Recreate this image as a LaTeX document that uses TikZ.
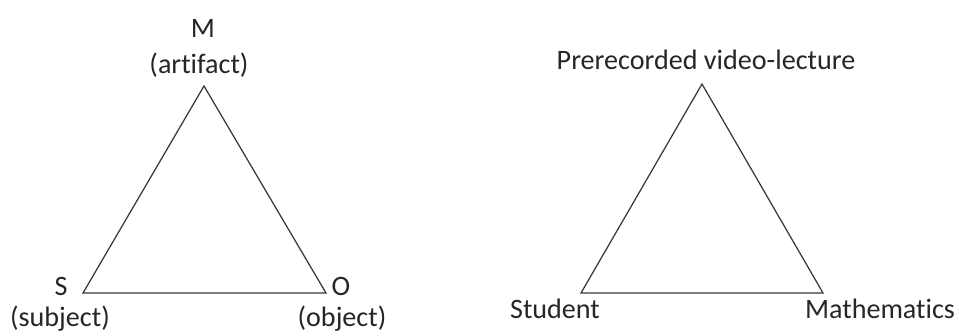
\documentclass[tikz,border=0pt]{standalone}
\usepackage{fontspec}
\setmainfont{Carlito}[Ligatures=NoCommon]
\usepackage{tikz}
\usetikzlibrary{positioning}
\definecolor{ink}{HTML}{262626}
\definecolor{edge}{HTML}{3A3A3A}
\tikzset{
  lbl/.style={anchor=base,inner sep=0pt,text=ink,font=\fontsize{20}{24}\selectfont},
  side/.style={draw=edge,line width=0.9pt,line join=miter},
}
\begin{document}
\begin{tikzpicture}[x=0.025cm,y=-0.025cm]
\useasboundingbox (0,0) rectangle (959,335);
% mediation triangle
\coordinate (m) at (204,86);
\coordinate (s) at (83,293);
\coordinate (o) at (326,293);
\draw[side] (m) -- (s) -- (o) -- cycle;
\node[lbl] (mname) at (203,37) {M};
\node[lbl] (mrole) at (199,73) {(artifact)};
\node[lbl] (sname) at (61,295) {S};
\node[lbl] (srole) at (60,326) {(subject)};
\node[lbl] (oname) at (341,295) {O};
\node[lbl] (orole) at (342,326) {(object)};
% the case
\coordinate (video) at (702,84);
\coordinate (student) at (581,293);
\coordinate (maths) at (823,293);
\draw[side] (video) -- (student) -- (maths) -- cycle;
\node[lbl] (vname) at (706,69) {Prerecorded video-lecture};
\node[lbl] (stname) at (555,318) {Student};
\node[lbl] (maname) at (880,318) {Mathematics};
\end{tikzpicture}
\end{document}
